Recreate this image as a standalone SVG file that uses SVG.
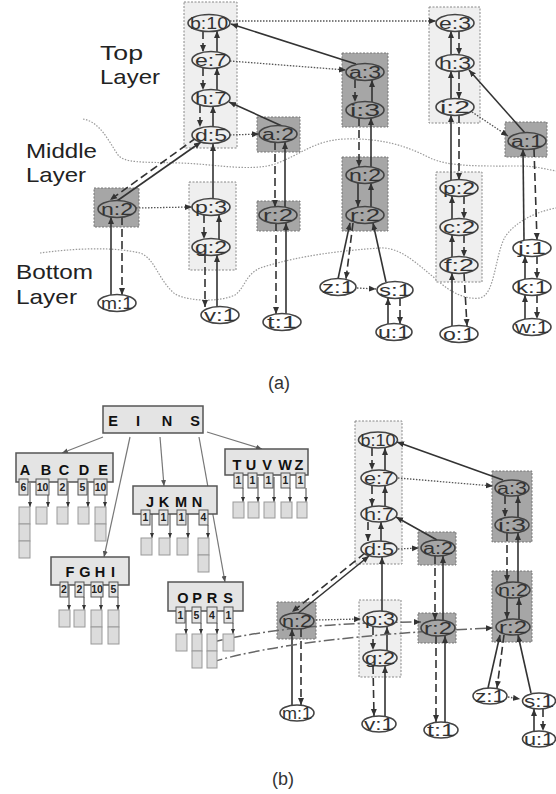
<svg xmlns="http://www.w3.org/2000/svg" width="556" height="794" viewBox="0 0 556 794">
<style>
.bg{fill:#fff}
.lb{fill:#efefef;stroke:#888;stroke-width:1;stroke-dasharray:2 1.5}
.db{fill:#a6a6a6;stroke:#777;stroke-width:1;stroke-dasharray:2 1.5}
ellipse{stroke:#444;stroke-width:1.6}
.w{fill:#fff}.l{fill:#efefef}.d{fill:#a6a6a6}
.t{font-family:"Liberation Sans",Arial,sans-serif;font-size:16px;fill:#333;text-anchor:middle}
.lay{font-family:"Liberation Sans",Arial,sans-serif;font-size:21px;fill:#222}
.cap{font-family:"Liberation Sans",Arial,sans-serif;font-size:18px;fill:#333;text-anchor:middle}
.s{stroke:#333;stroke-width:1.6;fill:none;marker-end:url(#ah)}
.ds{stroke:#333;stroke-width:1.6;fill:none;stroke-dasharray:8 4;marker-end:url(#ah)}
.dt{stroke:#555;stroke-width:1.3;fill:none;stroke-dasharray:1.5 1.5;marker-end:url(#ah)}
.dd{stroke:#666;stroke-width:1.5;fill:none;stroke-dasharray:11 3 2 3;marker-end:url(#ah)}
.wave{stroke:#999;stroke-width:1.2;fill:none;stroke-dasharray:1.5 1.5}
.tb{fill:#e4e4e4;stroke:#555;stroke-width:1.5}
.cb{fill:#e4e4e4;stroke:#555;stroke-width:1}
.rb{fill:#dcdcdc;stroke:#999;stroke-width:1}
.tl{stroke:#777;stroke-width:1.2;fill:none;marker-end:url(#ag)}
.pt{stroke:#444;stroke-width:1;fill:none;marker-end:url(#as)}
.tt{font-family:"Liberation Sans",Arial,sans-serif;font-size:14.5px;font-weight:bold;fill:#111;text-anchor:middle}
.ct{font-family:"Liberation Sans",Arial,sans-serif;font-size:10.5px;font-weight:bold;fill:#222;text-anchor:middle}
</style>
<defs>
<marker id="ah" markerUnits="userSpaceOnUse" markerWidth="7" markerHeight="7" refX="7" refY="3.5" orient="auto"><path d="M0,0.5 L7,3.5 L0,6.5 z" fill="#333"/></marker>
<marker id="ag" markerUnits="userSpaceOnUse" markerWidth="6" markerHeight="6" refX="6" refY="3" orient="auto"><path d="M0,0.5 L6,3 L0,5.5 z" fill="#555"/></marker>
<marker id="as" markerUnits="userSpaceOnUse" markerWidth="5" markerHeight="5" refX="5" refY="2.5" orient="auto"><path d="M0,0.5 L5,2.5 L0,4.5 z" fill="#333"/></marker>
</defs>
<rect class="bg" x="0" y="0" width="556" height="794"/>

<!-- layer labels and boundaries -->
<g id="layers">
<path class="wave" d="M83,119 C100,122 108,140 118,155 C125,163 140,162 180,163 C215,164 250,172 275,164 C300,155 315,140 345,139 C380,138 405,145 430,158 C450,167 480,166 520,166 C535,166 545,169 556,171"/>
<path class="wave" d="M40,253 C70,249 110,246 140,253 C155,258 158,280 175,294 C190,302 220,302 235,295 C245,288 245,275 260,268 C285,260 320,252 380,248 C400,247 415,262 437,280 C450,292 465,300 480,298 C495,295 495,255 505,237 C515,222 535,212 556,208"/>
<text class="lay" x="100" y="60" textLength="43" lengthAdjust="spacingAndGlyphs">Top</text>
<text class="lay" x="100" y="84" textLength="60" lengthAdjust="spacingAndGlyphs">Layer</text>
<text class="lay" x="26" y="158" textLength="71" lengthAdjust="spacingAndGlyphs">Middle</text>
<text class="lay" x="26" y="182" textLength="60" lengthAdjust="spacingAndGlyphs">Layer</text>
<text class="lay" x="16" y="279" textLength="77" lengthAdjust="spacingAndGlyphs">Bottom</text>
<text class="lay" x="16" y="304" textLength="61" lengthAdjust="spacingAndGlyphs">Layer</text>
</g>

<!-- group boxes (a) -->
<g id="boxes-a">
<rect class="lb" x="184" y="2" width="53" height="146"/>
<rect class="db" x="257" y="117" width="43" height="35"/>
<rect class="db" x="342" y="53" width="46" height="74"/>
<rect class="lb" x="429" y="7" width="51" height="116"/>
<rect class="db" x="505" y="122" width="42" height="35"/>
<rect class="db" x="94" y="188" width="45" height="39"/>
<rect class="lb" x="189" y="182" width="47" height="88"/>
<rect class="db" x="257" y="201" width="43" height="30"/>
<rect class="db" x="342" y="157" width="46" height="74"/>
<rect class="lb" x="436" y="172" width="46" height="110"/>
</g>
<!-- group boxes (b) -->
<g id="boxes-b">
<rect class="lb" x="355" y="421" width="47" height="143"/>
<rect class="db" x="418" y="532" width="38" height="33"/>
<rect class="db" x="492" y="471" width="40" height="71"/>
<rect class="db" x="492" y="571" width="40" height="71"/>
<rect class="db" x="277" y="602" width="39" height="37"/>
<rect class="lb" x="359" y="600" width="42" height="77"/>
<rect class="db" x="418" y="613" width="38" height="30"/>
</g>

<!-- connectors -->
<g id="connectors">
<!-- (a) -->
<line class="ds" x1="203" y1="31" x2="203" y2="52"/>
<line class="s" x1="217" y1="52" x2="217" y2="31"/>
<line class="ds" x1="203" y1="68" x2="203" y2="90"/>
<line class="s" x1="217" y1="90" x2="217" y2="68"/>
<line class="ds" x1="200" y1="105" x2="200" y2="127"/>
<line class="s" x1="213" y1="127" x2="213" y2="106"/>
<line class="s" x1="356" y1="64" x2="231" y2="24"/>
<line class="s" x1="282" y1="126" x2="229" y2="102"/>
<line class="s" x1="213" y1="199" x2="213" y2="144"/>
<line class="ds" x1="196" y1="138" x2="110" y2="200"/>
<line class="s" x1="114" y1="203" x2="201" y2="142"/>
<line class="s" x1="111" y1="295" x2="111" y2="217"/>
<line class="ds" x1="122" y1="217" x2="122" y2="295"/>
<line class="ds" x1="204" y1="215" x2="204" y2="239"/>
<line class="s" x1="219" y1="239" x2="219" y2="215"/>
<line class="ds" x1="205" y1="255" x2="205" y2="307"/>
<line class="s" x1="217" y1="307" x2="217" y2="255"/>
<line class="ds" x1="275" y1="142" x2="275" y2="207"/>
<line class="s" x1="285" y1="207" x2="285" y2="142"/>
<line class="ds" x1="276" y1="223" x2="276" y2="314"/>
<line class="s" x1="286" y1="314" x2="286" y2="223"/>
<line class="ds" x1="355" y1="80" x2="355" y2="102"/>
<line class="s" x1="372" y1="102" x2="372" y2="80"/>
<line class="ds" x1="359" y1="118" x2="359" y2="167"/>
<line class="s" x1="371" y1="167" x2="371" y2="118"/>
<line class="s" x1="358" y1="183" x2="358" y2="207"/>
<line class="s" x1="371" y1="207" x2="371" y2="183"/>
<line class="s" x1="338" y1="279" x2="350" y2="223"/>
<line class="ds" x1="353" y1="223" x2="346" y2="279"/>
<line class="s" x1="386" y1="282" x2="373" y2="223"/>
<line class="s" x1="388" y1="324" x2="388" y2="298"/>
<line class="ds" x1="400" y1="298" x2="400" y2="324"/>
<line class="s" x1="451" y1="55" x2="451" y2="31"/>
<line class="ds" x1="459" y1="31" x2="459" y2="55"/>
<line class="s" x1="451" y1="99" x2="451" y2="71"/>
<line class="ds" x1="459" y1="71" x2="459" y2="99"/>
<line class="s" x1="451" y1="180" x2="451" y2="115"/>
<line class="ds" x1="459" y1="115" x2="459" y2="180"/>
<line class="s" x1="525" y1="133" x2="469" y2="70"/>
<line class="s" x1="452" y1="219" x2="452" y2="196"/>
<line class="ds" x1="464" y1="196" x2="464" y2="219"/>
<line class="s" x1="452" y1="257" x2="452" y2="235"/>
<line class="ds" x1="464" y1="235" x2="464" y2="257"/>
<line class="s" x1="452" y1="326" x2="452" y2="273"/>
<line class="ds" x1="464" y1="273" x2="467" y2="326"/>
<line class="s" x1="524" y1="240" x2="523" y2="149"/>
<line class="ds" x1="534" y1="149" x2="537" y2="240"/>
<line class="s" x1="525" y1="279" x2="525" y2="256"/>
<line class="ds" x1="537" y1="256" x2="537" y2="279"/>
<line class="s" x1="525" y1="319" x2="525" y2="295"/>
<line class="ds" x1="537" y1="295" x2="537" y2="319"/>
<line class="dt" x1="230" y1="21" x2="436" y2="21"/>
<line class="dt" x1="230" y1="61" x2="346" y2="70"/>
<line class="dt" x1="230" y1="135" x2="259" y2="134"/>
<line class="dt" x1="136" y1="208" x2="192" y2="207"/>
<line class="dt" x1="357" y1="288" x2="376" y2="289"/>
<line class="dt" x1="472" y1="112" x2="508" y2="136"/>
<!-- (b) -->
<line class="ds" x1="372" y1="448" x2="372" y2="470"/>
<line class="s" x1="385" y1="470" x2="385" y2="448"/>
<line class="ds" x1="372" y1="486" x2="372" y2="506"/>
<line class="s" x1="385" y1="506" x2="385" y2="486"/>
<line class="ds" x1="368" y1="522" x2="368" y2="541"/>
<line class="s" x1="381" y1="541" x2="381" y2="522"/>
<line class="s" x1="503" y1="480" x2="397" y2="442"/>
<line class="s" x1="437" y1="540" x2="396" y2="517"/>
<line class="ds" x1="365" y1="553" x2="292" y2="612"/>
<line class="s" x1="296" y1="615" x2="369" y2="556"/>
<line class="s" x1="382" y1="611" x2="382" y2="557"/>
<line class="s" x1="292" y1="705" x2="292" y2="629"/>
<line class="ds" x1="301" y1="629" x2="301" y2="705"/>
<line class="ds" x1="373" y1="627" x2="373" y2="650"/>
<line class="s" x1="387" y1="650" x2="387" y2="627"/>
<line class="ds" x1="373" y1="666" x2="374" y2="716"/>
<line class="s" x1="385" y1="716" x2="385" y2="666"/>
<line class="ds" x1="435" y1="556" x2="435" y2="620"/>
<line class="s" x1="443" y1="620" x2="443" y2="556"/>
<line class="ds" x1="436" y1="636" x2="436" y2="722"/>
<line class="s" x1="445" y1="722" x2="445" y2="636"/>
<line class="ds" x1="505" y1="496" x2="505" y2="517"/>
<line class="s" x1="518" y1="517" x2="518" y2="496"/>
<line class="ds" x1="507" y1="533" x2="507" y2="582"/>
<line class="s" x1="518" y1="582" x2="518" y2="533"/>
<line class="s" x1="507" y1="598" x2="507" y2="619"/>
<line class="s" x1="519" y1="619" x2="519" y2="598"/>
<line class="s" x1="488" y1="688" x2="500" y2="635"/>
<line class="ds" x1="504" y1="635" x2="497" y2="688"/>
<line class="s" x1="531" y1="693" x2="518" y2="635"/>
<line class="s" x1="534" y1="731" x2="534" y2="709"/>
<line class="ds" x1="543" y1="709" x2="543" y2="731"/>
<line class="dt" x1="398" y1="478" x2="493" y2="486"/>
<line class="dt" x1="398" y1="549" x2="419" y2="548"/>
<line class="dt" x1="316" y1="620" x2="361" y2="619"/>
<line class="dt" x1="508" y1="697" x2="520" y2="699"/>
<path class="dd" d="M212,642 Q300,622 421,622"/>
<path class="dd" d="M212,662 Q300,636 493,628"/>
<!-- tree edges -->
<line class="tl" x1="103" y1="437" x2="62" y2="453"/>
<line class="tl" x1="130" y1="437" x2="104" y2="557"/>
<line class="tl" x1="160" y1="437" x2="164" y2="486"/>
<line class="tl" x1="199" y1="437" x2="225" y2="582"/>
<line class="tl" x1="207" y1="432" x2="262" y2="449"/>
</g>

<!-- tree nodes -->
<g id="t-root">
<rect class="tb" x="103" y="406" width="100" height="27"/>
<text class="tt" x="113" y="426">E</text><text class="tt" x="138" y="426">I</text><text class="tt" x="167" y="426">N</text><text class="tt" x="195" y="426">S</text>
</g>
<g id="t-ABCDE">
<rect class="tb" x="16" y="453" width="97" height="29"/>
<text class="tt" x="25" y="475">A</text><text class="tt" x="46" y="475">B</text><text class="tt" x="64" y="475">C</text><text class="tt" x="84" y="475">D</text><text class="tt" x="103" y="475">E</text>
<rect class="cb" x="19" y="479" width="9" height="16"/><text class="ct" x="23.5" y="491">6</text>
<rect class="cb" x="36" y="479" width="13" height="16"/><text class="ct" x="42.5" y="491">10</text>
<rect class="cb" x="58" y="479" width="9" height="16"/><text class="ct" x="62.5" y="491">2</text>
<rect class="cb" x="78" y="479" width="9" height="16"/><text class="ct" x="82.5" y="491">5</text>
<rect class="cb" x="94" y="479" width="13" height="16"/><text class="ct" x="100.5" y="491">10</text>
<line class="pt" x1="30" y1="483" x2="30" y2="507"/>
<line class="pt" x1="48" y1="495" x2="48" y2="507"/>
<line class="pt" x1="68" y1="483" x2="68" y2="507"/>
<line class="pt" x1="88" y1="483" x2="88" y2="507"/>
<line class="pt" x1="105" y1="495" x2="105" y2="507"/>
<rect class="rb" x="19" y="507" width="11" height="17"/><rect class="rb" x="19" y="524" width="11" height="17"/><rect class="rb" x="19" y="541" width="11" height="17"/>
<rect class="rb" x="36" y="507" width="11" height="17"/>
<rect class="rb" x="57" y="507" width="11" height="17"/>
<rect class="rb" x="78" y="507" width="11" height="17"/>
<rect class="rb" x="95" y="507" width="11" height="17"/><rect class="rb" x="95" y="524" width="11" height="17"/>
</g>
<g id="t-JKMN">
<rect class="tb" x="133" y="486" width="84" height="28"/>
<text class="tt" x="150" y="507">J</text><text class="tt" x="164" y="507">K</text><text class="tt" x="181" y="507">M</text><text class="tt" x="197" y="507">N</text>
<rect class="cb" x="141" y="510" width="9" height="15"/><text class="ct" x="145.5" y="521">1</text>
<rect class="cb" x="159" y="510" width="9" height="15"/><text class="ct" x="163.5" y="521">1</text>
<rect class="cb" x="177" y="510" width="9" height="15"/><text class="ct" x="181.5" y="521">1</text>
<rect class="cb" x="199" y="510" width="9" height="15"/><text class="ct" x="203.5" y="521">4</text>
<line class="pt" x1="152" y1="514" x2="152" y2="538"/>
<line class="pt" x1="170" y1="514" x2="170" y2="538"/>
<line class="pt" x1="188" y1="514" x2="188" y2="538"/>
<line class="pt" x1="208" y1="525" x2="208" y2="538"/>
<rect class="rb" x="141" y="538" width="11" height="17"/>
<rect class="rb" x="159" y="538" width="11" height="17"/>
<rect class="rb" x="177" y="538" width="11" height="17"/>
<rect class="rb" x="198" y="538" width="11" height="17"/><rect class="rb" x="198" y="555" width="11" height="17"/>
</g>
<g id="t-TUVWZ">
<rect class="tb" x="225" y="449" width="83" height="26"/>
<text class="tt" x="237" y="470">T</text><text class="tt" x="251" y="470">U</text><text class="tt" x="267" y="470">V</text><text class="tt" x="285" y="470">W</text><text class="tt" x="299" y="470">Z</text>
<rect class="cb" x="234" y="473" width="9" height="15"/><text class="ct" x="238.5" y="484">1</text>
<rect class="cb" x="248" y="473" width="9" height="15"/><text class="ct" x="252.5" y="484">1</text>
<rect class="cb" x="264" y="473" width="9" height="15"/><text class="ct" x="268.5" y="484">1</text>
<rect class="cb" x="281" y="473" width="9" height="15"/><text class="ct" x="285.5" y="484">1</text>
<rect class="cb" x="296" y="473" width="9" height="15"/><text class="ct" x="300.5" y="484">1</text>
<line class="pt" x1="243" y1="488" x2="243" y2="502"/>
<line class="pt" x1="258" y1="477" x2="258" y2="502"/>
<line class="pt" x1="274" y1="477" x2="274" y2="502"/>
<line class="pt" x1="290" y1="488" x2="290" y2="502"/>
<line class="pt" x1="306" y1="488" x2="306" y2="502"/>
<rect class="rb" x="233" y="502" width="11" height="16"/>
<rect class="rb" x="248" y="502" width="11" height="16"/>
<rect class="rb" x="264" y="502" width="11" height="16"/>
<rect class="rb" x="281" y="502" width="11" height="16"/>
<rect class="rb" x="297" y="502" width="10" height="16"/>
</g>
<g id="t-FGHI">
<rect class="tb" x="51" y="557" width="78" height="28"/>
<text class="tt" x="70" y="577">F</text><text class="tt" x="85" y="577">G</text><text class="tt" x="100" y="577">H</text><text class="tt" x="113" y="577">I</text>
<rect class="cb" x="60" y="582" width="8" height="15"/><text class="ct" x="64" y="593">2</text>
<rect class="cb" x="75" y="582" width="9" height="15"/><text class="ct" x="79.5" y="593">2</text>
<rect class="cb" x="91" y="582" width="12" height="15"/><text class="ct" x="97" y="593">10</text>
<rect class="cb" x="109" y="582" width="9" height="15"/><text class="ct" x="113.5" y="593">5</text>
<line class="pt" x1="69" y1="586" x2="69" y2="610"/>
<line class="pt" x1="84" y1="597" x2="84" y2="610"/>
<line class="pt" x1="101" y1="597" x2="101" y2="610"/>
<line class="pt" x1="118" y1="597" x2="118" y2="610"/>
<rect class="rb" x="59" y="610" width="11" height="17"/>
<rect class="rb" x="74" y="610" width="11" height="17"/>
<rect class="rb" x="91" y="610" width="11" height="17"/><rect class="rb" x="91" y="627" width="11" height="17"/>
<rect class="rb" x="108" y="610" width="11" height="17"/><rect class="rb" x="108" y="627" width="11" height="17"/>
</g>
<g id="t-OPRS">
<rect class="tb" x="168" y="582" width="75" height="29"/>
<text class="tt" x="183" y="603">O</text><text class="tt" x="197" y="603">P</text><text class="tt" x="212" y="603">R</text><text class="tt" x="228" y="603">S</text>
<rect class="cb" x="176" y="607" width="9" height="16"/><text class="ct" x="180.5" y="619">1</text>
<rect class="cb" x="192" y="607" width="9" height="16"/><text class="ct" x="196.5" y="619">5</text>
<rect class="cb" x="207" y="607" width="10" height="16"/><text class="ct" x="212" y="619">4</text>
<rect class="cb" x="224" y="607" width="9" height="16"/><text class="ct" x="228.5" y="619">1</text>
<line class="pt" x1="186" y1="611" x2="186" y2="634"/>
<line class="pt" x1="201" y1="623" x2="201" y2="634"/>
<line class="pt" x1="217" y1="623" x2="217" y2="634"/>
<line class="pt" x1="233" y1="623" x2="233" y2="634"/>
<rect class="rb" x="176" y="634" width="11" height="17"/>
<rect class="rb" x="192" y="634" width="10" height="17"/><rect class="rb" x="192" y="651" width="10" height="17"/>
<rect class="rb" x="207" y="634" width="10" height="17"/><rect class="rb" x="207" y="651" width="10" height="17"/>
<rect class="rb" x="223" y="634" width="11" height="17"/>
</g>

<!-- graph nodes (a) -->
<g id="a-b10"><ellipse class="l" cx="209" cy="23" rx="21" ry="8.5"/><text class="t" x="209" y="29" textLength="38" lengthAdjust="spacingAndGlyphs">b:10</text></g>
<g id="a-e7"><ellipse class="l" cx="211" cy="60" rx="19" ry="8.5"/><text class="t" x="211" y="66" textLength="32" lengthAdjust="spacingAndGlyphs">e:7</text></g>
<g id="a-h7"><ellipse class="l" cx="211" cy="98" rx="19" ry="8.5"/><text class="t" x="211" y="104" textLength="32" lengthAdjust="spacingAndGlyphs">h:7</text></g>
<g id="a-d5"><ellipse class="l" cx="211" cy="135" rx="19" ry="8.5"/><text class="t" x="211" y="141" textLength="32" lengthAdjust="spacingAndGlyphs">d:5</text></g>
<g id="a-a2"><ellipse class="d" cx="278" cy="134" rx="19" ry="8.5"/><text class="t" x="278" y="140" textLength="32" lengthAdjust="spacingAndGlyphs">a:2</text></g>
<g id="a-a3"><ellipse class="d" cx="365" cy="72" rx="19" ry="8.5"/><text class="t" x="365" y="78" textLength="32" lengthAdjust="spacingAndGlyphs">a:3</text></g>
<g id="a-i3"><ellipse class="d" cx="365" cy="110" rx="19" ry="8.5"/><text class="t" x="365" y="116" textLength="30" lengthAdjust="spacingAndGlyphs">i:3</text></g>
<g id="a-n2m"><ellipse class="d" cx="365" cy="175" rx="19" ry="8.5"/><text class="t" x="365" y="181" textLength="32" lengthAdjust="spacingAndGlyphs">n:2</text></g>
<g id="a-r2m"><ellipse class="d" cx="365" cy="215" rx="19" ry="8.5"/><text class="t" x="365" y="221" textLength="30" lengthAdjust="spacingAndGlyphs">r:2</text></g>
<g id="a-e3"><ellipse class="l" cx="455" cy="23" rx="19" ry="8.5"/><text class="t" x="455" y="29" textLength="32" lengthAdjust="spacingAndGlyphs">e:3</text></g>
<g id="a-h3"><ellipse class="l" cx="455" cy="63" rx="19" ry="8.5"/><text class="t" x="455" y="69" textLength="32" lengthAdjust="spacingAndGlyphs">h:3</text></g>
<g id="a-i2"><ellipse class="l" cx="455" cy="107" rx="19" ry="8.5"/><text class="t" x="455" y="113" textLength="30" lengthAdjust="spacingAndGlyphs">i:2</text></g>
<g id="a-a1"><ellipse class="d" cx="527" cy="141" rx="19" ry="8.5"/><text class="t" x="527" y="147" textLength="32" lengthAdjust="spacingAndGlyphs">a:1</text></g>
<g id="a-n2"><ellipse class="d" cx="117" cy="209" rx="19" ry="8.5"/><text class="t" x="117" y="215" textLength="32" lengthAdjust="spacingAndGlyphs">n:2</text></g>
<g id="a-p3"><ellipse class="l" cx="211" cy="207" rx="19" ry="8.5"/><text class="t" x="211" y="213" textLength="32" lengthAdjust="spacingAndGlyphs">p:3</text></g>
<g id="a-g2"><ellipse class="l" cx="211" cy="247" rx="19" ry="8.5"/><text class="t" x="211" y="253" textLength="32" lengthAdjust="spacingAndGlyphs">g:2</text></g>
<g id="a-r2"><ellipse class="d" cx="278" cy="215" rx="19" ry="8.5"/><text class="t" x="278" y="221" textLength="30" lengthAdjust="spacingAndGlyphs">r:2</text></g>
<g id="a-p2"><ellipse class="l" cx="459" cy="188" rx="19" ry="8.5"/><text class="t" x="459" y="194" textLength="32" lengthAdjust="spacingAndGlyphs">p:2</text></g>
<g id="a-c2"><ellipse class="l" cx="459" cy="227" rx="19" ry="8.5"/><text class="t" x="459" y="233" textLength="32" lengthAdjust="spacingAndGlyphs">c:2</text></g>
<g id="a-f2"><ellipse class="l" cx="459" cy="265" rx="19" ry="8.5"/><text class="t" x="459" y="271" textLength="30" lengthAdjust="spacingAndGlyphs">f:2</text></g>
<g id="a-m1"><ellipse class="w" cx="117" cy="303" rx="19" ry="8.5"/><text class="t" x="117" y="309" textLength="32" lengthAdjust="spacingAndGlyphs">m:1</text></g>
<g id="a-v1"><ellipse class="w" cx="220" cy="315" rx="19" ry="8.5"/><text class="t" x="220" y="321" textLength="32" lengthAdjust="spacingAndGlyphs">v:1</text></g>
<g id="a-t1"><ellipse class="w" cx="282" cy="322" rx="19" ry="8.5"/><text class="t" x="282" y="328" textLength="30" lengthAdjust="spacingAndGlyphs">t:1</text></g>
<g id="a-z1"><ellipse class="w" cx="338" cy="287" rx="18" ry="8.5"/><text class="t" x="338" y="293" textLength="32" lengthAdjust="spacingAndGlyphs">z:1</text></g>
<g id="a-s1"><ellipse class="w" cx="395" cy="290" rx="18" ry="8.5"/><text class="t" x="395" y="296" textLength="32" lengthAdjust="spacingAndGlyphs">s:1</text></g>
<g id="a-u1"><ellipse class="w" cx="394" cy="332" rx="18" ry="8.5"/><text class="t" x="394" y="338" textLength="32" lengthAdjust="spacingAndGlyphs">u:1</text></g>
<g id="a-o1"><ellipse class="w" cx="459" cy="334" rx="19" ry="8.5"/><text class="t" x="459" y="340" textLength="32" lengthAdjust="spacingAndGlyphs">o:1</text></g>
<g id="a-j1"><ellipse class="w" cx="532" cy="248" rx="19" ry="8.5"/><text class="t" x="532" y="254" textLength="28" lengthAdjust="spacingAndGlyphs">j:1</text></g>
<g id="a-k1"><ellipse class="w" cx="532" cy="287" rx="19" ry="8.5"/><text class="t" x="532" y="293" textLength="32" lengthAdjust="spacingAndGlyphs">k:1</text></g>
<g id="a-w1"><ellipse class="w" cx="532" cy="327" rx="19" ry="8.5"/><text class="t" x="532" y="333" textLength="34" lengthAdjust="spacingAndGlyphs">w:1</text></g>

<!-- graph nodes (b) -->
<g id="b-b10"><ellipse class="l" cx="378" cy="440" rx="19.5" ry="8"/><text class="t" x="378" y="446" textLength="35" lengthAdjust="spacingAndGlyphs">b:10</text></g>
<g id="b-e7"><ellipse class="l" cx="379" cy="478" rx="18" ry="8"/><text class="t" x="379" y="484" textLength="30" lengthAdjust="spacingAndGlyphs">e:7</text></g>
<g id="b-h7"><ellipse class="l" cx="379" cy="514" rx="18" ry="8"/><text class="t" x="379" y="520" textLength="30" lengthAdjust="spacingAndGlyphs">h:7</text></g>
<g id="b-d5"><ellipse class="l" cx="379" cy="549" rx="18" ry="8"/><text class="t" x="379" y="555" textLength="30" lengthAdjust="spacingAndGlyphs">d:5</text></g>
<g id="b-a2"><ellipse class="d" cx="438" cy="548" rx="17" ry="8"/><text class="t" x="438" y="554" textLength="30" lengthAdjust="spacingAndGlyphs">a:2</text></g>
<g id="b-a3"><ellipse class="d" cx="512" cy="488" rx="17" ry="8"/><text class="t" x="512" y="494" textLength="30" lengthAdjust="spacingAndGlyphs">a:3</text></g>
<g id="b-i3"><ellipse class="d" cx="512" cy="525" rx="17" ry="8"/><text class="t" x="512" y="531" textLength="28" lengthAdjust="spacingAndGlyphs">i:3</text></g>
<g id="b-n2m"><ellipse class="d" cx="513" cy="590" rx="17" ry="8"/><text class="t" x="513" y="596" textLength="30" lengthAdjust="spacingAndGlyphs">n:2</text></g>
<g id="b-r2m"><ellipse class="d" cx="513" cy="627" rx="17" ry="8"/><text class="t" x="513" y="633" textLength="28" lengthAdjust="spacingAndGlyphs">r:2</text></g>
<g id="b-n2"><ellipse class="d" cx="297" cy="621" rx="17" ry="8"/><text class="t" x="297" y="627" textLength="30" lengthAdjust="spacingAndGlyphs">n:2</text></g>
<g id="b-p3"><ellipse class="l" cx="380" cy="619" rx="17" ry="8"/><text class="t" x="380" y="625" textLength="30" lengthAdjust="spacingAndGlyphs">p:3</text></g>
<g id="b-g2"><ellipse class="l" cx="380" cy="658" rx="17" ry="8"/><text class="t" x="380" y="664" textLength="30" lengthAdjust="spacingAndGlyphs">g:2</text></g>
<g id="b-r2"><ellipse class="d" cx="438" cy="628" rx="17" ry="8"/><text class="t" x="438" y="634" textLength="28" lengthAdjust="spacingAndGlyphs">r:2</text></g>
<g id="b-m1"><ellipse class="w" cx="297" cy="713" rx="17" ry="8"/><text class="t" x="297" y="719" textLength="30" lengthAdjust="spacingAndGlyphs">m:1</text></g>
<g id="b-v1"><ellipse class="w" cx="379" cy="724" rx="17" ry="8"/><text class="t" x="379" y="730" textLength="30" lengthAdjust="spacingAndGlyphs">v:1</text></g>
<g id="b-t1"><ellipse class="w" cx="441" cy="730" rx="17" ry="8"/><text class="t" x="441" y="736" textLength="28" lengthAdjust="spacingAndGlyphs">t:1</text></g>
<g id="b-z1"><ellipse class="w" cx="490" cy="696" rx="17" ry="8"/><text class="t" x="490" y="702" textLength="30" lengthAdjust="spacingAndGlyphs">z:1</text></g>
<g id="b-s1"><ellipse class="w" cx="539" cy="701" rx="16.5" ry="8"/><text class="t" x="539" y="707" textLength="30" lengthAdjust="spacingAndGlyphs">s:1</text></g>
<g id="b-u1"><ellipse class="w" cx="539" cy="739" rx="16.5" ry="8"/><text class="t" x="539" y="745" textLength="30" lengthAdjust="spacingAndGlyphs">u:1</text></g>

<text class="cap" x="279" y="389">(a)</text>
<text class="cap" x="283" y="785">(b)</text>
</svg>
